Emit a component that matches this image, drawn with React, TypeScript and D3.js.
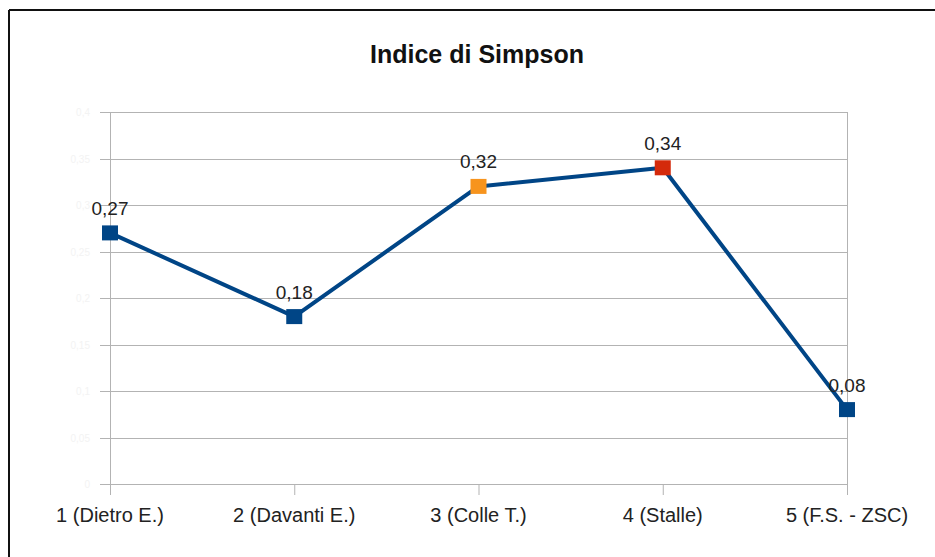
import React from "react";
import * as d3 from "d3";

const categories = ["1 (Dietro E.)", "2 (Davanti E.)", "3 (Colle T.)", "4 (Stalle)", "5 (F.S. - ZSC)"];
const values = [0.27, 0.18, 0.32, 0.34, 0.08];
const labels = ["0,27", "0,18", "0,32", "0,34", "0,08"];
const markerColors = ["#004586", "#004586", "#f7941d", "#d42a0b", "#004586"];
const yTicks = [0, 0.05, 0.1, 0.15, 0.2, 0.25, 0.3, 0.35, 0.4];
const yTickLabels = ["0", "0,05", "0,1", "0,15", "0,2", "0,25", "0,3", "0,35", "0,4"];
const title = "Indice di Simpson";

const W = 935;
const H = 557;
const left = 110;
const right = 847;
const top = 112;
const bottom = 484;

export default function App() {
  const x = d3.scalePoint<string>().domain(categories).range([left, right]);
  const y = d3.scaleLinear().domain([0, 0.4]).range([bottom, top]);
  const line = d3
    .line<number>()
    .x((_, i) => x(categories[i]) as number)
    .y((d) => y(d));
  const font = "'Liberation Sans', Arial, sans-serif";
  return (
    <svg
      width={W}
      height={H}
      style={{ position: "absolute", left: 0, top: 0, background: "#fff" }}
      fontFamily={font}
    >
      <rect x={0} y={0} width={W} height={H} fill="#fff" />
      <line x1={9} y1={10} x2={W} y2={10} stroke="#111" strokeWidth={2} />
      <line x1={9} y1={10} x2={9} y2={H} stroke="#111" strokeWidth={2} />
      <text x={477} y={63} textAnchor="middle" fontSize={25} fontWeight="bold" fill="#111">
        {title}
      </text>
      {yTicks.map((t, i) => (
        <g key={"g" + i}>
          <line x1={100} x2={right} y1={Math.round(y(t)) + 0.5} y2={Math.round(y(t)) + 0.5} stroke="#b3b3b3" strokeWidth={1} />
          <text x={90} y={y(t) + 4} textAnchor="end" fontSize={10} fill="#f3f3f3">
            {yTickLabels[i]}
          </text>
        </g>
      ))}
      <line x1={left + 0.5} x2={left + 0.5} y1={top} y2={495} stroke="#b3b3b3" />
      <line x1={right + 0.5} x2={right + 0.5} y1={top} y2={495} stroke="#b3b3b3" />
      {categories.map((c, i) => (
        <g key={"c" + i}>
          <line x1={(x(c) as number) + 0.5} x2={(x(c) as number) + 0.5} y1={bottom} y2={495} stroke="#b3b3b3" />
          <text x={x(c)} y={522} textAnchor="middle" fontSize={20} fill="#222">
            {c}
          </text>
        </g>
      ))}
      <path d={line(values) || ""} fill="none" stroke="#004586" strokeWidth={4} strokeLinejoin="round" />
      {values.map((v, i) => (
        <g key={"p" + i}>
          <rect x={(x(categories[i]) as number) - 8} y={y(v) - 7.5} width={16} height={15} fill={markerColors[i]} />
          <text x={x(categories[i])} y={y(v) - 18} textAnchor="middle" fontSize={19} fill="#222">
            {labels[i]}
          </text>
        </g>
      ))}
    </svg>
  );
}
